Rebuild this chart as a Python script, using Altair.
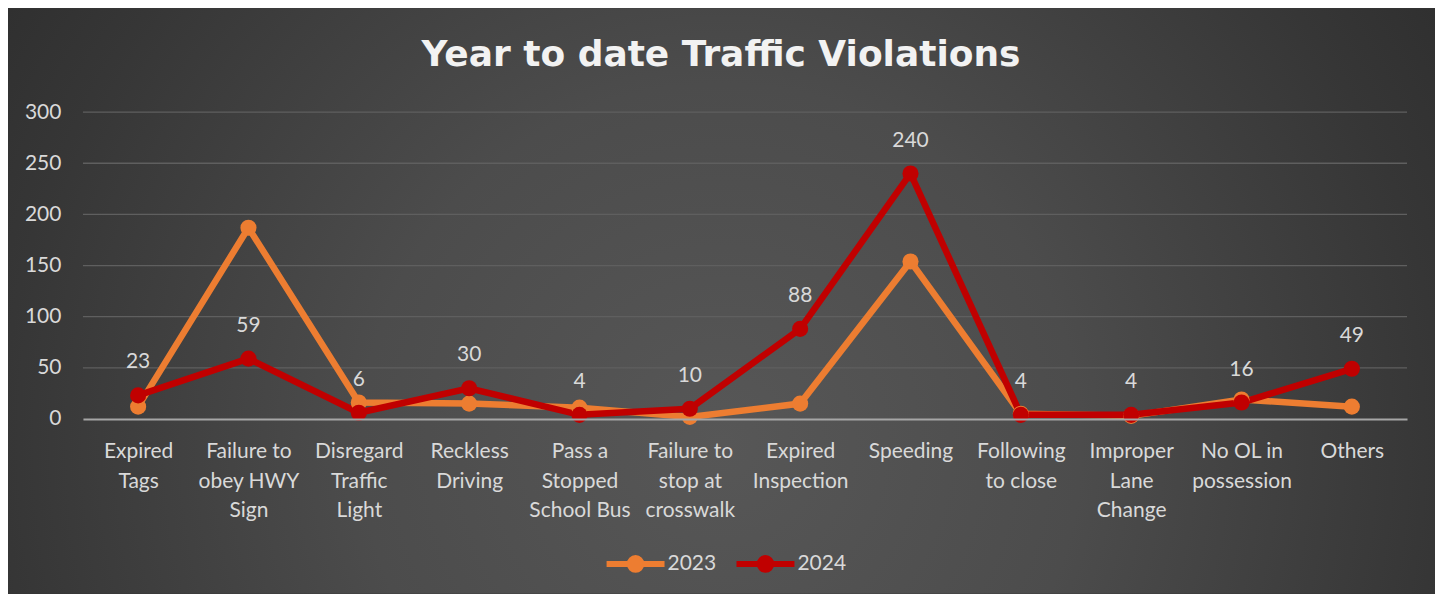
import altair as alt
import pandas as pd

categories = [
    "Expired\nTags",
    "Failure to\nobey HWY\nSign",
    "Disregard\nTraffic\nLight",
    "Reckless\nDriving",
    "Pass a\nStopped\nSchool Bus",
    "Failure to\nstop at\ncrosswalk",
    "Expired\nInspection",
    "Speeding",
    "Following\nto close",
    "Improper\nLane\nChange",
    "No OL in\npossession",
    "Others",
]
v2023 = [12, 187, 16, 15, 11, 2, 15, 154, 5, 3, 19, 12]
v2024 = [23, 59, 6, 30, 4, 10, 88, 240, 4, 4, 16, 49]
years = ["2023", "2024"]
colors = ["#ED7D31", "#C00000"]
y_ticks = [0, 50, 100, 150, 200, 250, 300]

rows = []
for i, c in enumerate(categories):
    rows.append({"category": c, "year": years[0], "value": v2023[i]})
for i, c in enumerate(categories):
    rows.append({"category": c, "year": years[1], "value": v2024[i]})
df = pd.DataFrame(rows)
grid_df = pd.DataFrame({"value": y_ticks[1:]})

W, H = 1325, 307
PAD = {"left": 75, "top": 104, "right": 28, "bottom": 175}
FONT = "Lato"
TXT = "#d9d9d9"

x_axis = alt.Axis(
    title=None,
    labelAngle=0,
    labelExpr="split(datum.value, '\\n')",
    ticks=False,
    grid=False,
    domainColor="#a6a6a6",
    domainWidth=2,
    labelPadding=22,
    labelLineHeight=29.5,
    labelColor=TXT,
    labelFontSize=21,
    labelFont=FONT,
    zindex=1,
)
y_axis = alt.Axis(
    title=None,
    values=y_ticks,
    domain=False,
    ticks=False,
    grid=False,
    labelPadding=22,
    labelColor=TXT,
    labelFontSize=21,
    labelFont=FONT,
    zindex=1,
)
y_scale = alt.Scale(domain=[0, 300])
x_enc = alt.X("category:N", sort=categories, axis=x_axis)
y_enc = alt.Y("value:Q", scale=y_scale, axis=y_axis)

sym_path = "M-1,0H1M0.2,0A0.2,0.2,0,1,1,-0.2,0A0.2,0.2,0,1,1,0.2,0Z"
color_enc = alt.Color(
    "year:N",
    scale=alt.Scale(domain=years, range=colors),
    legend=alt.Legend(
        title=None,
        orient="none",
        direction="horizontal",
        legendX=521,
        legendY=420,
        symbolType=sym_path,
        symbolSize=3364,
        symbolStrokeWidth=6,
        labelFontSize=21,
        labelColor=TXT,
        labelFont=FONT,
        labelOffset=0,
        columnPadding=8,
        padding=0,
    ),
)

bg = alt.Chart(alt.Data(values=[{}])).mark_rect(
    fill={
        "gradient": "radial",
        "x1": 0.5, "y1": 0.6, "r1": 0,
        "x2": 0.5, "y2": 0.6, "r2": 0.72,
        "stops": [
            {"offset": 0, "color": "#575757"},
            {"offset": 0.35, "color": "#4c4c4c"},
            {"offset": 0.7, "color": "#363636"},
            {"offset": 1, "color": "#262626"},
        ],
    }
).encode(
    x=alt.value(-PAD["left"]),
    x2=alt.value(W + PAD["right"]),
    y=alt.value(-PAD["top"]),
    y2=alt.value(H + PAD["bottom"]),
)

grid = alt.Chart(grid_df).mark_rule(color="#5f5f5f", strokeWidth=1.3).encode(
    y=y_enc
)

base = alt.Chart(df).encode(x=x_enc, y=y_enc, color=color_enc)
lines = base.mark_line(strokeWidth=6.5)
points = base.mark_point(filled=True, size=260, opacity=1)
labels = alt.Chart(df).transform_filter(alt.datum.year == "2024").mark_text(
    dy=-27, baseline="alphabetic", fontSize=21, font=FONT, color=TXT
).encode(x=x_enc, y=y_enc, text="value:Q")

chart = alt.layer(bg, grid, lines, points, labels).properties(
    width=W,
    height=H,
    padding=PAD,
    autosize=alt.AutoSizeParams(type="none"),
    title=alt.TitleParams(
        "Year to date Traffic Violations",
        font="DejaVu Sans",
        fontSize=36,
        fontWeight="bold",
        color="#f2f2f2",
        anchor="middle",
        baseline="alphabetic",
        dx=-24,
        dy=94,
        offset=0,
    ),
).configure(background="#333333").configure_view(stroke=None)

chart.save("out.html", embed_options={"renderer": "svg", "actions": False})
